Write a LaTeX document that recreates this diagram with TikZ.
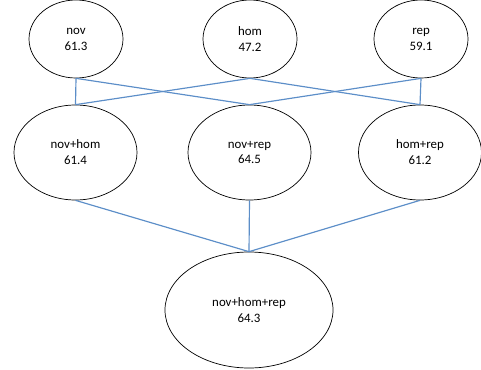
\documentclass[tikz,border=0pt]{standalone}
\usepackage{fontspec}
\setmainfont{Carlito}
\usetikzlibrary{shapes.geometric}
\definecolor{linkblue}{RGB}{92,142,200}
\begin{document}
\begin{tikzpicture}[
  x=0.03cm, y=-0.03cm,
  single/.style={draw, ellipse, line width=0.6pt, align=center, inner sep=0pt,
    minimum width=2.82cm, minimum height=2.34cm, font=\fontsize{11}{13.6}\selectfont},
  pair/.style={single, minimum width=3.69cm, minimum height=2.85cm},
  triple/.style={single, minimum width=5.04cm, minimum height=3.48cm},
  link/.style={draw=linkblue, line width=1pt}
]
\useasboundingbox (0,0) rectangle (481,370);
\node[single] (nov) at (76,39) {nov\\61.3};
\node[single] (hom) at (250,39) {hom\\47.2};
\node[single] (rep) at (421,39) {rep\\59.1};
\node[pair] (novhom) at (75.5,152.5) {nov+hom\\61.4};
\node[pair] (novrep) at (249.5,152.5) {nov+rep\\64.5};
\node[pair] (homrep) at (420,152.5) {hom+rep\\61.2};
\node[triple] (all) at (249,310) {nov+hom+rep\\64.3};
\draw[link] (nov.south) -- (novhom.north);
\draw[link] (nov.south) -- (novrep.north);
\draw[link] (hom.south) -- (novhom.north);
\draw[link] (hom.south) -- (homrep.north);
\draw[link] (rep.south) -- (novrep.north);
\draw[link] (rep.south) -- (homrep.north);
\draw[link] (novhom.south) -- (all.north);
\draw[link] (novrep.south) -- (all.north);
\draw[link] (homrep.south) -- (all.north);
\end{tikzpicture}
\end{document}
